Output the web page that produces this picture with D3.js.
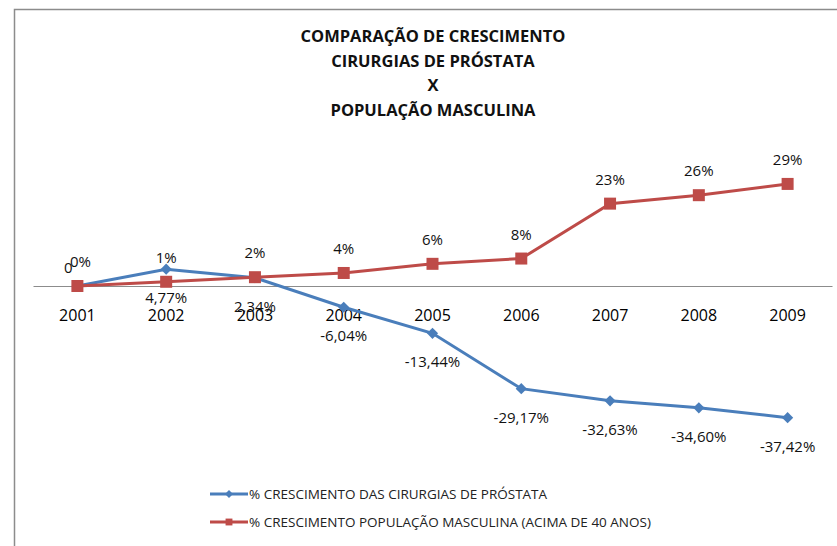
<!DOCTYPE html>
<html>
<head>
<meta charset="utf-8">
<script src="https://cdn.jsdelivr.net/npm/d3@7"></script>
<style>
  body { margin: 0; background: #fff; }
  svg { display: block; }
</style>
</head>
<body>
<svg id="chart" width="837" height="546"></svg>
<script>
// data
const years = ["2001", "2002", "2003", "2004", "2005", "2006", "2007", "2008", "2009"];
const surgeryGrowth = [0, 4.77, 2.34, -6.04, -13.44, -29.17, -32.63, -34.60, -37.42];
const surgeryLabels = ["0", "4,77%", "2,34%", "-6,04%", "-13,44%", "-29,17%", "-32,63%", "-34,60%", "-37,42%"];
const popGrowth = [0, 1.2, 2.5, 3.7, 6.3, 7.8, 23.4, 25.8, 29];
const popLabels = ["0%", "1%", "2%", "4%", "6%", "8%", "23%", "26%", "29%"];
const titleLines = ["COMPARAÇÃO DE CRESCIMENTO", "CIRURGIAS DE PRÓSTATA", "X", "POPULAÇÃO MASCULINA"];
const legendNames = [
  "% CRESCIMENTO DAS  CIRURGIAS DE PRÓSTATA",
  "% CRESCIMENTO POPULAÇÃO MASCULINA (ACIMA DE 40 ANOS)"
];

const BLUE = "#4a7ebb";
const RED = "#be4b48";
const font = "'Open Sans', 'Liberation Sans', sans-serif";

const svg = d3.select("#chart");

// chart frame (only top/left visible in the picture)
svg.append("rect")
  .attr("x", 14.5).attr("y", 9.5)
  .attr("width", 900).attr("height", 600)
  .attr("fill", "none")
  .attr("stroke", "#8c8c8c")
  .attr("stroke-width", 1.5);

// title
svg.append("g")
  .selectAll("text")
  .data(titleLines)
  .join("text")
  .attr("x", 433)
  .attr("y", (d, i) => 42 + i * 24.5)
  .attr("text-anchor", "middle")
  .attr("font-family", font)
  .attr("font-weight", "bold")
  .attr("font-size", 16.5)
  .attr("fill", "#111")
  .text(d => d);

// scales
const x = d3.scaleBand().domain(years).range([33, 832]);
const y = d3.scaleLinear().domain([-50, 40]).range([462, 145.2]);
const cx = d => x(d) + x.bandwidth() / 2;

// category axis sits on zero
const axis = svg.append("g")
  .attr("transform", `translate(0,${y(0)})`)
  .call(d3.axisBottom(x).tickSize(0).tickPadding(24));
axis.select(".domain").attr("stroke", "#8c8c8c").attr("stroke-width", 1.2);
axis.selectAll("text")
  .attr("font-family", font)
  .attr("font-size", 16)
  .attr("fill", "#000");

const line = d3.line().x(d => cx(d.year)).y(d => y(d.v));

const blue = years.map((yr, i) => ({ year: yr, v: surgeryGrowth[i], label: surgeryLabels[i] }));
const red = years.map((yr, i) => ({ year: yr, v: popGrowth[i], label: popLabels[i] }));

// blue series
svg.append("path")
  .datum(blue)
  .attr("d", line)
  .attr("fill", "none")
  .attr("stroke", BLUE)
  .attr("stroke-width", 3);

svg.append("g")
  .selectAll("path")
  .data(blue)
  .join("path")
  .attr("d", d3.symbol(d3.symbolDiamond2, 80))
  .attr("transform", d => `translate(${cx(d.year)},${y(d.v)})`)
  .attr("fill", BLUE);

// red series
svg.append("path")
  .datum(red)
  .attr("d", line)
  .attr("fill", "none")
  .attr("stroke", RED)
  .attr("stroke-width", 3);

svg.append("g")
  .selectAll("rect")
  .data(red)
  .join("rect")
  .attr("x", d => cx(d.year) - 6)
  .attr("y", d => y(d.v) - 6)
  .attr("width", 12)
  .attr("height", 12)
  .attr("fill", RED);

// data labels
svg.append("g")
  .selectAll("text")
  .data(red)
  .join("text")
  .attr("x", d => d.v === 0 ? cx(d.year) + 3 : cx(d.year))
  .attr("y", d => y(d.v) - 19)
  .attr("text-anchor", "middle")
  .attr("font-family", font)
  .attr("font-size", 15)
  .attr("fill", "#111")
  .text(d => d.label);

svg.append("g")
  .selectAll("text")
  .data(blue)
  .join("text")
  .attr("x", d => d.v === 0 ? cx(d.year) - 9 : cx(d.year))
  .attr("y", d => d.v === 0 ? y(d.v) - 13 : y(d.v) + 34)
  .attr("text-anchor", "middle")
  .attr("font-family", font)
  .attr("font-size", 15)
  .attr("fill", "#111")
  .text(d => d.label);

// legend
const legend = svg.append("g")
  .selectAll("g")
  .data([{ name: legendNames[0], color: BLUE, shape: "diamond" },
         { name: legendNames[1], color: RED, shape: "square" }])
  .join("g")
  .attr("transform", (d, i) => `translate(210,${494 + i * 28})`);

legend.append("line")
  .attr("x1", 0).attr("x2", 38)
  .attr("stroke", d => d.color)
  .attr("stroke-width", 3);

legend.append("path")
  .attr("d", d => d.shape === "diamond"
    ? d3.symbol(d3.symbolDiamond2, 40)()
    : d3.symbol(d3.symbolSquare2, 60)())
  .attr("transform", "translate(19,0)")
  .attr("fill", d => d.color);

legend.append("text")
  .attr("x", 39)
  .attr("y", 5)
  .attr("font-family", font)
  .attr("font-size", 13.5)
  .attr("fill", "#222")
  .text(d => d.name);
</script>
</body>
</html>
